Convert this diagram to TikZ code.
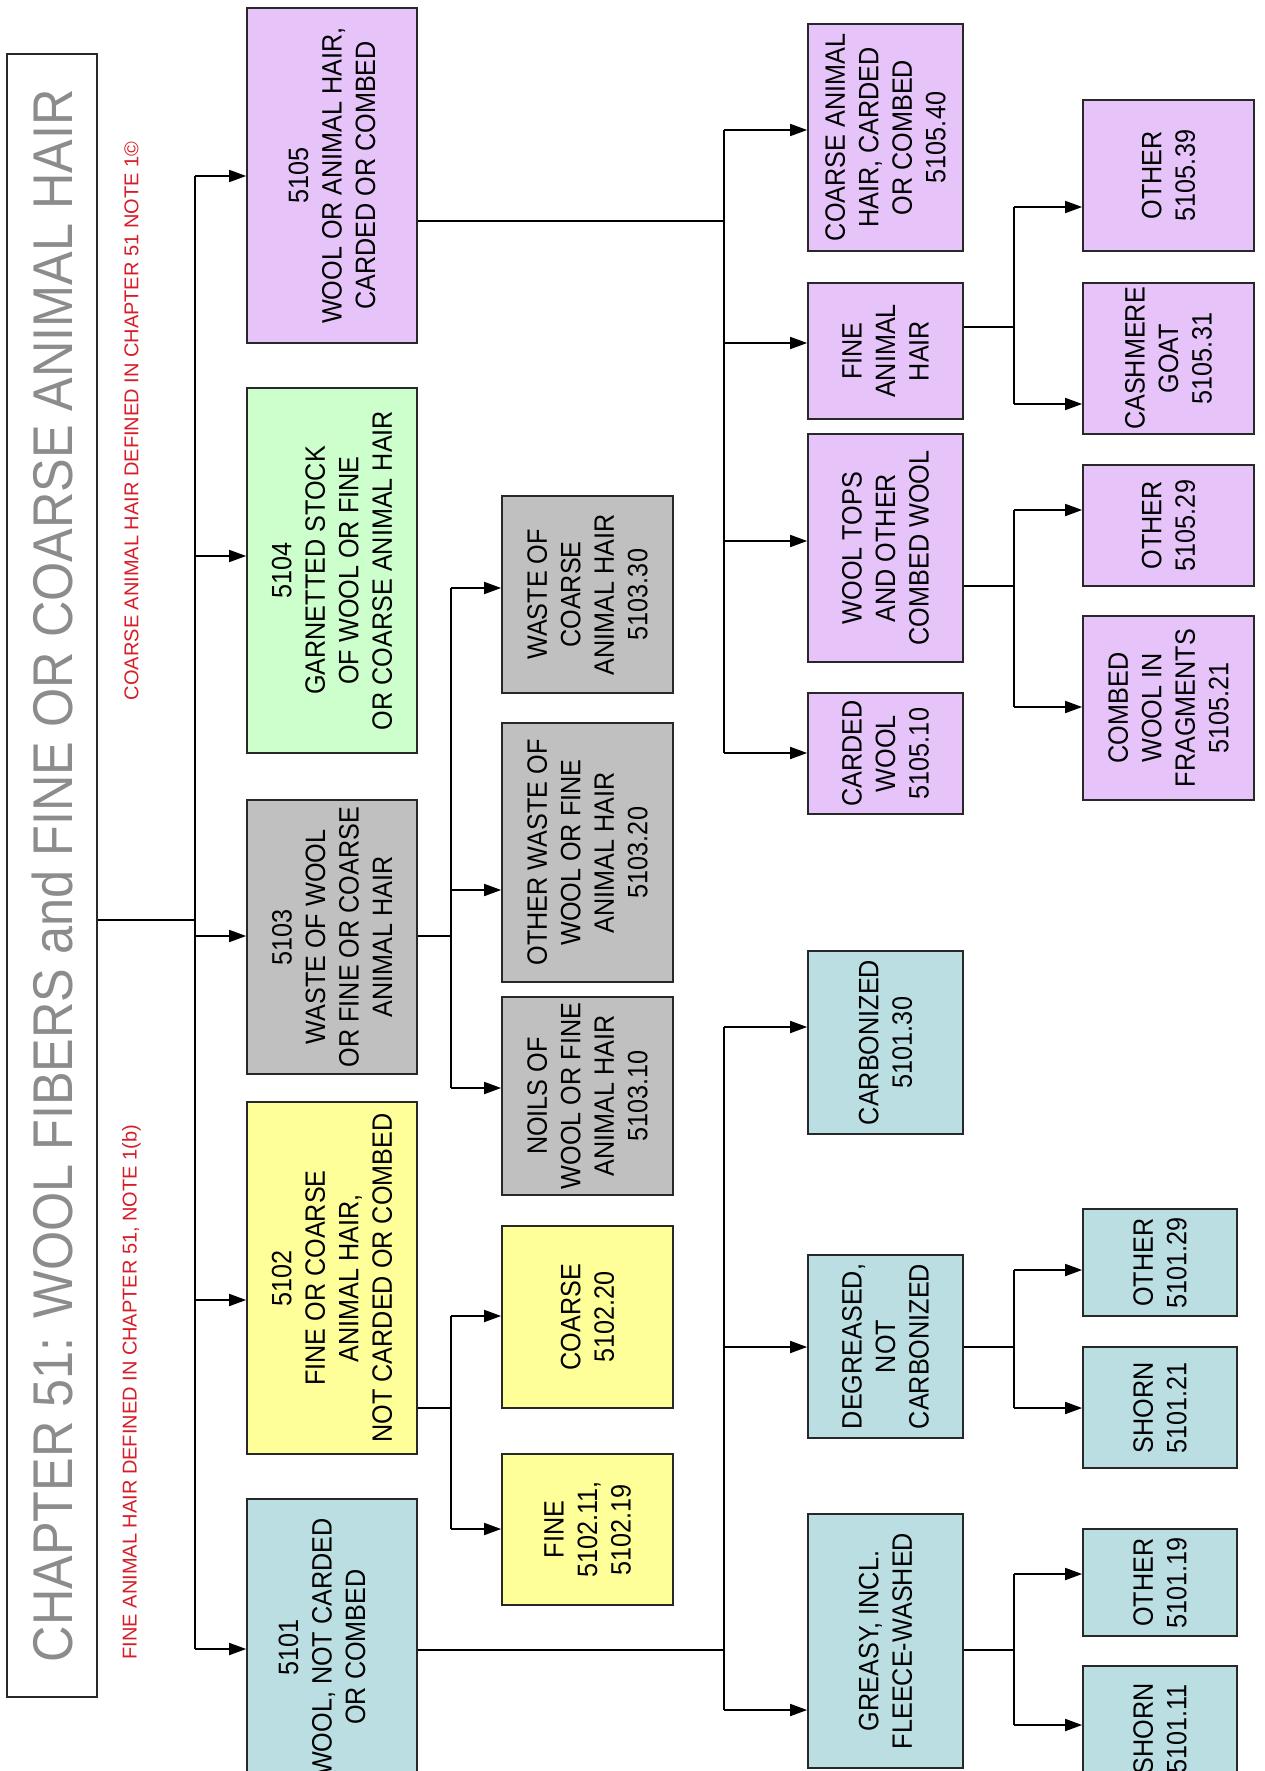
\documentclass[tikz,border=0pt]{standalone}
\usepackage{fontspec}
\setmainfont{Liberation Sans}
\newfontfamily\nf[FakeStretch=0.9]{Liberation Sans}
\usetikzlibrary{arrows.meta}
\definecolor{cpur}{RGB}{230,196,250}
\definecolor{cgrn}{RGB}{204,255,204}
\definecolor{cgry}{RGB}{192,192,192}
\definecolor{cyel}{RGB}{255,255,153}
\definecolor{ctea}{RGB}{186,222,226}
\definecolor{cred}{RGB}{215,30,40}
\definecolor{ctit}{RGB}{140,140,140}
\definecolor{cedge}{RGB}{40,40,40}
\tikzset{
  boxst/.style={draw=cedge,line width=1.7pt,rotate=90,align=center,inner sep=0pt,
    font=\nf\fontsize{28}{33.5}\selectfont,text=black},
  txtst/.style={rotate=90,align=center,inner sep=0pt,font=\nf\fontsize{28}{33.5}\selectfont,text=black},
  titst/.style={draw=cedge,line width=1.7pt,rotate=90,inner sep=0pt,fill=white,
    font=\nf\fontsize{56}{60}\selectfont,text=ctit},
  notest/.style={rotate=90,inner sep=0pt,text=cred,font=\fontsize{20}{24}\selectfont},
  ln/.style={line width=1.7pt,draw=black},
  arr/.style={ln,-{Triangle[length=17pt,width=12pt]}}
}
\newcommand\bx[7]{\node[boxst,fill=#6,minimum width={(#5)-(#3)},minimum height={(#4)-(#2)}] (#1) at ({((#2)+(#4))/2},{((#3)+(#5))/2}) {#7};}
\begin{document}
\begin{tikzpicture}[x=1pt,y=-1pt]
\useasboundingbox (0,0) rectangle (1265,1771);
\fill[white] (0,0) rectangle (1265,1771);

% title and notes
\node[titst,minimum width={1697-54},minimum height={97-7}] (title) at (52,875.5) {CHAPTER 51: WOOL FIBERS and FINE OR COARSE ANIMAL HAIR};
\node[notest] (notefine) at (131.5,1392) {FINE ANIMAL HAIR DEFINED IN CHAPTER 51, NOTE 1(b)};
\node[notest] (notecoarse) at (131.5,421) {COARSE ANIMAL HAIR DEFINED IN CHAPTER 51 NOTE 1©};

% level 1
\bx{n5105}{247}{8}{417}{343}{cpur}{5105\\WOOL OR ANIMAL HAIR,\\CARDED OR COMBED}
\bx{n5104}{247}{388}{417}{753}{cgrn}{5104\\GARNETTED STOCK\\OF WOOL OR FINE\\OR COARSE ANIMAL HAIR}
\bx{n5103}{247}{800}{417}{1074}{cgry}{5103\\WASTE OF WOOL\\OR FINE OR COARSE\\ANIMAL HAIR}
\bx{n5102}{247}{1102}{417}{1454}{cyel}{5102\\FINE OR COARSE\\ANIMAL HAIR,\\NOT CARDED OR COMBED}
\bx{n5101}{247}{1499}{417}{1800}{ctea}{}
\node[txtst] (n5101t) at (322,1647) {5101\\WOOL, NOT CARDED\\OR COMBED};

% level 2 : 5103 / 5102
\bx{n510330}{502}{496}{673}{693}{cgry}{WASTE OF\\COARSE\\ANIMAL HAIR\\5103.30}
\bx{n510320}{502}{723}{673}{982}{cgry}{OTHER WASTE OF\\WOOL OR FINE\\ANIMAL HAIR\\5103.20}
\bx{n510310}{502}{997}{673}{1195}{cgry}{NOILS OF\\WOOL OR FINE\\ANIMAL HAIR\\5103.10}
\bx{n510220}{502}{1226}{673}{1408}{cyel}{COARSE\\5102.20}
\bx{n510211}{502}{1454}{673}{1605}{cyel}{FINE\\5102.11,\\5102.19}

% level 2 : 5105 / 5101
\bx{n510540}{808}{24}{963}{251}{cpur}{COARSE ANIMAL\\HAIR, CARDED\\OR COMBED\\5105.40}
\bx{n5105fine}{808}{283}{963}{419}{cpur}{FINE\\ANIMAL\\HAIR}
\bx{n5105tops}{808}{434}{963}{662}{cpur}{WOOL TOPS\\AND OTHER\\COMBED WOOL}
\bx{n510510}{808}{693}{963}{814}{cpur}{CARDED\\WOOL\\5105.10}
\bx{n510130}{808}{951}{963}{1134}{ctea}{CARBONIZED\\5101.30}
\bx{n5101deg}{808}{1255}{963}{1438}{ctea}{DEGREASED,\\NOT\\CARBONIZED}
\bx{n5101gre}{808}{1514}{963}{1768}{ctea}{GREASY, INCL.\\FLEECE-WASHED}

% level 3
\bx{n510539}{1083}{100}{1254}{251}{cpur}{OTHER\\5105.39}
\bx{n510531}{1083}{283}{1254}{434}{cpur}{CASHMERE\\GOAT\\5105.31}
\bx{n510529}{1083}{465}{1254}{586}{cpur}{OTHER\\5105.29}
\bx{n510521}{1083}{616}{1254}{800}{cpur}{COMBED\\WOOL IN\\FRAGMENTS\\5105.21}
\bx{n510129}{1083}{1209}{1237}{1316}{ctea}{OTHER\\5101.29}
\bx{n510121}{1083}{1347}{1237}{1468}{ctea}{SHORN\\5101.21}
\bx{n510119}{1083}{1529}{1237}{1636}{ctea}{OTHER\\5101.19}
\bx{n510111}{1083}{1666}{1237}{1792}{ctea}{SHORN\\5101.11}

% trunk
\coordinate (j0) at (195,920);
\coordinate (t5105) at (195,176);
\coordinate (t5104) at (195,556);
\coordinate (t5103) at (195,936);
\coordinate (t5102) at (195,1300);
\coordinate (t5101) at (195,1649);
\draw[ln] (j0 -| title.south) -- (j0);
\draw[ln] (t5105) -- (t5101);
\foreach \a/\b in {t5105/n5105,t5104/n5104,t5103/n5103,t5102/n5102,t5101/n5101}
  \draw[arr] (\a) -- (\a -| \b.north);

% fork 5103
\coordinate (f5103) at (451,936);
\coordinate (a510330) at (451,588);
\coordinate (a510320) at (451,890);
\coordinate (a510310) at (451,1088);
\draw[ln] (n5103.south |- f5103) -- (f5103);
\draw[ln] (a510330) -- (a510310);
\foreach \a/\b in {a510330/n510330,a510320/n510320,a510310/n510310}
  \draw[arr] (\a) -- (\a -| \b.north);

% fork 5102
\coordinate (f5102) at (451,1408);
\coordinate (a510220) at (451,1316);
\coordinate (a510211) at (451,1529);
\draw[ln] (n5102.south |- f5102) -- (f5102);
\draw[ln] (a510220) -- (a510211);
\foreach \a/\b in {a510220/n510220,a510211/n510211}
  \draw[arr] (\a) -- (\a -| \b.north);

% fork 5105
\coordinate (f5105) at (724,221);
\coordinate (a510540) at (724,130);
\coordinate (a5105fine) at (724,343);
\coordinate (a5105tops) at (724,541);
\coordinate (a510510) at (724,753);
\draw[ln] (n5105.south |- f5105) -- (f5105);
\draw[ln] (a510540) -- (a510510);
\foreach \a/\b in {a510540/n510540,a5105fine/n5105fine,a5105tops/n5105tops,a510510/n510510}
  \draw[arr] (\a) -- (\a -| \b.north);

% fork fine animal hair
\coordinate (ffine) at (1014,327);
\coordinate (a510539) at (1014,207);
\coordinate (a510531) at (1014,404);
\draw[ln] (n5105fine.south |- ffine) -- (ffine);
\draw[ln] (a510539) -- (a510531);
\foreach \a/\b in {a510539/n510539,a510531/n510531}
  \draw[arr] (\a) -- (\a -| \b.north);

% fork wool tops
\coordinate (ftops) at (1014,586);
\coordinate (a510529) at (1014,510);
\coordinate (a510521) at (1014,707);
\draw[ln] (n5105tops.south |- ftops) -- (ftops);
\draw[ln] (a510529) -- (a510521);
\foreach \a/\b in {a510529/n510529,a510521/n510521}
  \draw[arr] (\a) -- (\a -| \b.north);

% fork 5101
\coordinate (f5101) at (724,1650);
\coordinate (a510130) at (724,1027);
\coordinate (a5101deg) at (724,1347);
\coordinate (a5101gre) at (724,1710);
\draw[ln] (n5101.south |- f5101) -- (f5101);
\draw[ln] (a510130) -- (a5101gre);
\foreach \a/\b in {a510130/n510130,a5101deg/n5101deg,a5101gre/n5101gre}
  \draw[arr] (\a) -- (\a -| \b.north);

% fork degreased
\coordinate (fdeg) at (1014,1347);
\coordinate (a510129) at (1014,1270);
\coordinate (a510121) at (1014,1408);
\draw[ln] (n5101deg.south |- fdeg) -- (fdeg);
\draw[ln] (a510129) -- (a510121);
\foreach \a/\b in {a510129/n510129,a510121/n510121}
  \draw[arr] (\a) -- (\a -| \b.north);

% fork greasy
\coordinate (fgre) at (1014,1650);
\coordinate (a510119) at (1014,1574);
\coordinate (a510111) at (1014,1725);
\draw[ln] (n5101gre.south |- fgre) -- (fgre);
\draw[ln] (a510119) -- (a510111);
\foreach \a/\b in {a510119/n510119,a510111/n510111}
  \draw[arr] (\a) -- (\a -| \b.north);
\end{tikzpicture}
\end{document}
